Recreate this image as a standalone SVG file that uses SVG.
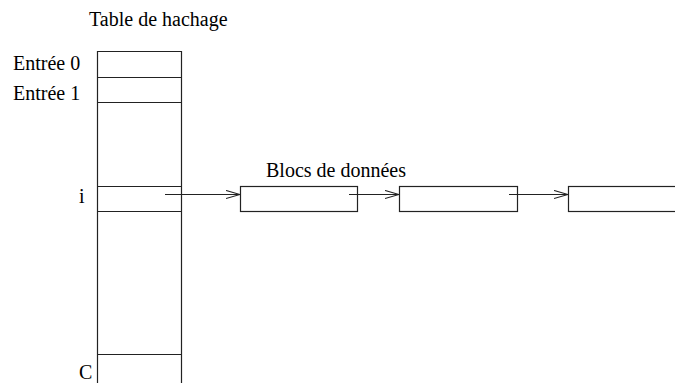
<svg xmlns="http://www.w3.org/2000/svg" width="675" height="383" viewBox="0 0 675 383">
<style>
.t{font-family:"Liberation Serif",serif;font-size:20px;fill:#000}
.l{stroke:#222;stroke-width:1.2;fill:none}
</style>
<defs>
<marker id="ah" viewBox="0 0 14 10" refX="14" refY="5" markerWidth="14" markerHeight="10" markerUnits="userSpaceOnUse" orient="auto">
<path d="M0,1 L14,5 L0,9" fill="none" stroke="#222" stroke-width="1.2"/>
</marker>
</defs>
<rect width="675" height="383" fill="#fff"/>
<g id="table">
<text class="t" x="89" y="26">Table de hachage</text>
<path class="l" d="M97.5,383 V51.5 H181.5 V383 M97.5,77.5 H181.5 M97.5,102.5 H181.5 M97.5,186.5 H181.5 M97.5,211.5 H181.5 M97.5,354.5 H181.5"/>
<text class="t" x="13" y="70">Entrée 0</text>
<text class="t" x="13" y="100">Entrée 1</text>
<text class="t" x="79" y="203">i</text>
<text class="t" x="79" y="379">C</text>
</g>
<g id="bloc1">
<rect class="l" x="240.5" y="186.5" width="117" height="25"/>
<text class="t" x="266" y="177">Blocs de données</text>
</g>
<g id="bloc2">
<rect class="l" x="399.5" y="186.5" width="118" height="25"/>
</g>
<g id="bloc3">
<rect class="l" x="568.5" y="186.5" width="120" height="25"/>
</g>
<g id="connectors">
<line class="l" x1="165" y1="194.5" x2="240" y2="194.5" marker-end="url(#ah)"/>
<line class="l" x1="349" y1="194.5" x2="399" y2="194.5" marker-end="url(#ah)"/>
<line class="l" x1="509" y1="194.5" x2="568" y2="194.5" marker-end="url(#ah)"/>
</g>
</svg>
